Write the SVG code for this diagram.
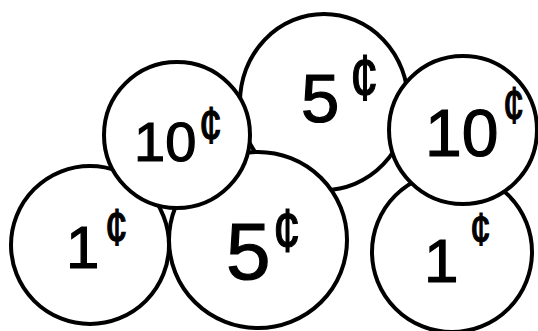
<svg xmlns="http://www.w3.org/2000/svg" width="538" height="331" viewBox="0 0 538 331">
<style>
.coin{fill:#fff;stroke:#000;stroke-width:4}
.v{font-family:"Liberation Sans",Arial,sans-serif;fill:#000;stroke:#000;stroke-width:1.2}
</style>
<rect width="538" height="331" fill="#fff"/>
<g id="coin-5c-top"><ellipse class="coin" cx="324" cy="102" rx="84" ry="88"/><text class="v" x="301" y="122" font-size="69">5</text><text class="v" transform="translate(350,100) scale(0.8,1)" font-size="64">¢</text></g>
<g id="coin-5c-bottom"><ellipse class="coin" cx="258" cy="240" rx="89" ry="88"/><text class="v" x="226" y="279" font-size="80">5</text><text class="v" transform="translate(273,251) scale(0.8,1)" font-size="62">¢</text></g>
<g id="coin-1c-left"><circle class="coin" cx="90" cy="245" r="79"/><text class="v" x="66" y="268" font-size="60">1</text><text class="v" transform="translate(105,245) scale(0.8,1)" font-size="51">¢</text></g>
<g id="coin-10c-left"><circle class="coin" cx="177" cy="135" r="73"/><text class="v" x="134" y="161" font-size="56">10</text><text class="v" transform="translate(199,143) scale(0.8,1)" font-size="52">¢</text></g>
<g id="coin-1c-right"><circle class="coin" cx="452" cy="252" r="80"/><text class="v" x="424" y="282" font-size="62">1</text><text class="v" transform="translate(470,245) scale(0.8,1)" font-size="47">¢</text></g>
<g id="coin-10c-right"><circle class="coin" cx="463" cy="130" r="74"/><text class="v" x="425" y="156" font-size="66">10</text><text class="v" transform="translate(503,123) scale(0.75,1)" font-size="51">¢</text></g>
<g id="connectors"/>
</svg>
